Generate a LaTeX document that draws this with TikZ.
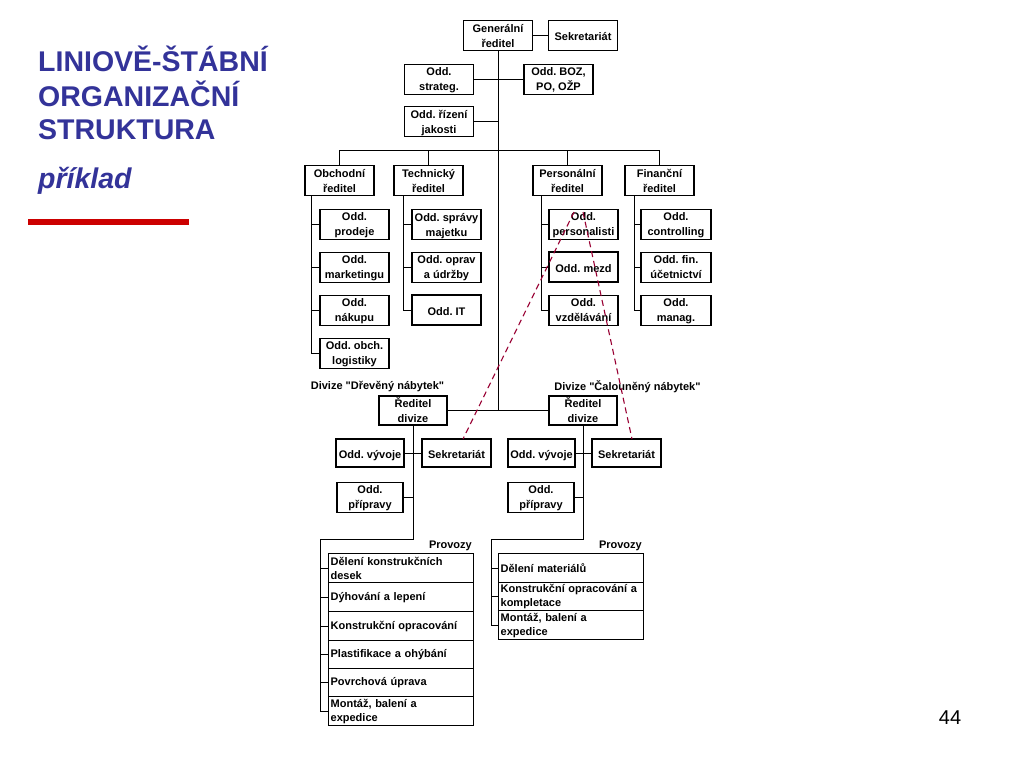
\documentclass[tikz,border=0pt]{standalone}
\usepackage{fontspec}
\setmainfont{Liberation Sans}[Ligatures=TeXOff]
\definecolor{titleblue}{RGB}{51,51,153}
\definecolor{barred}{RGB}{204,0,0}
\definecolor{staffred}{RGB}{153,0,51}
\tikzset{
  box/.style={draw, line width=1.7pt, font=\bfseries\fontsize{11}{15}\selectfont,
    align=center, inner sep=0pt, minimum width=69pt, minimum height=30pt,
    text depth=0pt, execute at begin node={\rule{0pt}{11pt}}},
  prow/.style={draw, line width=1.3pt, font=\bfseries\fontsize{11}{14}\selectfont,
    align=left, inner xsep=2pt, inner ysep=0pt, text width=141pt, anchor=north west},
  conn/.style={line width=1pt},
  lbl/.style={font=\bfseries\fontsize{11}{14}\selectfont, inner sep=0pt},
  titletext/.style={font=\bfseries\fontsize{28.5}{34}\selectfont, text=titleblue, inner sep=0pt, anchor=base west},
  staffline/.style={draw=staffred, line width=1.1pt, dash pattern=on 6pt off 4pt}
}
\begin{document}
\frenchspacing
\begin{tikzpicture}[x=1pt,y=-1pt]
\useasboundingbox[fill=white] (0,0) rectangle (1024,768);

% title
\node[titletext] (ti1) at (38,71) {LINIOVĚ-ŠTÁBNÍ};
\node[titletext] (ti2) at (38,106) {ORGANIZAČNÍ};
\node[titletext] (ti3) at (38,139) {STRUKTURA};
\node[titletext, font=\bfseries\itshape\fontsize{28.5}{34}\selectfont] (ti4) at (38,188) {příklad};
\draw[barred, line width=6pt] (28,222) -- (189,222);
\node[font=\fontsize{20}{24}\selectfont, anchor=base, inner sep=0pt] (pg) at (950,724) {44};

% top management
\node[box] (gen) at (498,35.5) {Generální\\ředitel};
\node[box] (sek) at (583,35.5) {Sekretariát};
\node[box] (strat) at (439,79.5) {Odd.\\strateg.};
\node[box] (boz) at (558.5,79.5) {Odd. BOZ,\\PO, OŽP};
\node[box] (jak) at (439,121.5) {Odd. řízení\\jakosti};

\node[box] (obch) at (339.5,180.5) {Obchodní\\ředitel};
\node[box] (tech) at (428.5,180.5) {Technický\\ředitel};
\node[box] (pers) at (567.5,180.5) {Personální\\ředitel};
\node[box] (fin) at (659.5,180.5) {Finanční\\ředitel};

% departments
\node[box] (o1) at (354.5,224.5) {Odd.\\prodeje};
\node[box] (o2) at (354.5,267.5) {Odd.\\marketingu};
\node[box] (o3) at (354.5,310.5) {Odd.\\nákupu};
\node[box] (o4) at (354.5,353.5) {Odd. obch.\\logistiky};
\node[box] (tA) at (446.5,224.5) {Odd. správy\\majetku};
\node[box] (tB) at (446.5,267.5) {Odd. oprav\\a údržby};
\node[box] (tC) at (446.5,310) {Odd. IT};
\node[box] (pA) at (583.5,224.5) {Odd.\\personalisti};
\node[box] (pB) at (583.5,267) {Odd. mezd};
\node[box] (pC) at (583.5,310.5) {Odd.\\vzdělávání};
\node[box, minimum width=70pt] (fA) at (676,224.5) {Odd.\\controlling};
\node[box, minimum width=70pt] (fB) at (676,267.5) {Odd. fin.\\účetnictví};
\node[box, minimum width=70pt] (fC) at (676,310.5) {Odd.\\manag.};

% top connectors
\coordinate (mj) at (498,410);
\draw[conn] (gen.south) -- (mj);
\draw[conn] (gen) -- (sek);
\draw[conn] (strat.east) -- (strat.east -| gen.south);
\draw[conn] (boz.west) -- (boz.west -| gen.south);
\draw[conn] (jak.east) -- (jak.east -| gen.south);
\coordinate (bus) at (498,150);
\draw[conn] (obch.north) -- (obch.north |- bus) -- (fin.north |- bus) -- (fin.north);
\draw[conn] (tech.north) -- (tech.north |- bus);
\draw[conn] (pers.north) -- (pers.north |- bus);

% department trees
\coordinate (ox) at (311,195);
\coordinate (tx) at (403,195);
\coordinate (px) at (541,195);
\coordinate (fx) at (634,195);
\draw[conn] (ox) |- (o4.west);
\foreach \n in {o1,o2,o3} \draw[conn] (\n.west) -- (\n.west -| ox);
\draw[conn] (tx) |- (tC.west);
\foreach \n in {tA,tB} \draw[conn] (\n.west) -- (\n.west -| tx);
\draw[conn] (px) |- (pC.west);
\foreach \n in {pA,pB} \draw[conn] (\n.west) -- (\n.west -| px);
\draw[conn] (fx) |- (fC.west);
\foreach \n in {fA,fB} \draw[conn] (\n.west) -- (\n.west -| fx);

% divisions
\node[lbl] (dl1) at (377.5,387) {Divize "Dřevěný nábytek"};
\node[lbl] (dl2) at (627.5,387) {Divize "Čalouněný nábytek"};
\node[box, minimum width=68pt, minimum height=29pt] (rd1) at (413,410.5) {Ředitel\\divize};
\node[box, minimum width=68pt, minimum height=29pt] (rd2) at (583,410.5) {Ředitel\\divize};
\draw[conn] (rd1.east) -- (rd2.west);

\node[box, minimum width=68pt, minimum height=28pt] (v1) at (370,453) {Odd. vývoje};
\node[box, minimum width=69pt, minimum height=28pt] (s1) at (456.5,453) {Sekretariát};
\node[box, minimum width=66pt] (pr1) at (370,497.5) {Odd.\\přípravy};
\node[box, minimum width=67pt, minimum height=28pt] (v2) at (541.5,453) {Odd. vývoje};
\node[box, minimum width=69pt, minimum height=28pt] (s2) at (626.5,453) {Sekretariát};
\node[box, minimum width=66pt] (pr2) at (541,497.5) {Odd.\\přípravy};
\draw[conn] (v1) -- (s1);
\draw[conn] (v2) -- (s2);

% provozy 1
\node[lbl, anchor=south east] (pv1) at (472,551) {Provozy};
\node[prow, minimum height=29pt] (r11) at (328,553) {Dělení konstrukčních\\desek};
\node[prow, minimum height=29pt] (r12) at (328,582) {Dýhování a lepení};
\node[prow, minimum height=29pt] (r13) at (328,611) {Konstrukční opracování};
\node[prow, minimum height=28pt] (r14) at (328,640) {Plastifikace a ohýbání};
\node[prow, minimum height=28pt] (r15) at (328,668) {Povrchová úprava};
\node[prow, minimum height=29pt] (r16) at (328,696) {Montáž, balení a\\expedice};

% provozy 2
\node[lbl, anchor=south east] (pv2) at (642,551) {Provozy};
\node[prow, minimum height=29pt] (r21) at (498,553) {Dělení materiálů};
\node[prow, minimum height=28pt] (r22) at (498,582) {Konstrukční opracování a\\kompletace};
\node[prow, minimum height=29pt] (r23) at (498,610) {Montáž, balení a\\expedice};

% division trees
\coordinate (b1) at (413,539);
\coordinate (c1) at (320,539);
\draw[conn] (rd1.south) -- (b1) -- (c1) |- (r16.west);
\draw[conn] (pr1.east) -- (pr1.east -| b1);
\foreach \n in {r11,r12,r13,r14,r15} \draw[conn] (\n.west) -- (\n.west -| c1);
\coordinate (b2) at (583,539);
\coordinate (c2) at (491,539);
\draw[conn] (rd2.south) -- (b2) -- (c2) |- (r23.west);
\draw[conn] (pr2.east) -- (pr2.east -| b2);
\foreach \n in {r21,r22} \draw[conn] (\n.west) -- (\n.west -| c2);

% staff links (dashed)
\coordinate (da) at (574,212);
\coordinate (db) at (583,212);
\coordinate (de1) at (463,439);
\coordinate (de2) at (632,439);
\draw[staffline] (da) -- (de1);
\draw[staffline] (db) -- (de2);
\end{tikzpicture}
\end{document}
